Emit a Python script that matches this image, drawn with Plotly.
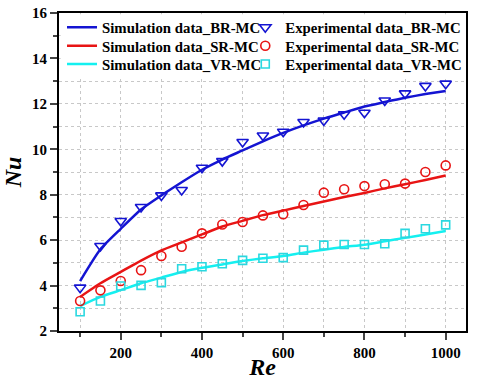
import plotly.graph_objects as go

re_vals = [100, 150, 200, 250, 300, 350, 400, 450, 500, 550, 600, 650, 700, 750, 800, 850, 900, 950, 1000]

sim_br = [4.2, 5.6, 6.5, 7.35, 7.97, 8.55, 9.1, 9.55, 9.95, 10.35, 10.72, 11.05, 11.35, 11.62, 11.88, 12.08, 12.27, 12.43, 12.57]
exp_br = [3.91, 5.74, 6.84, 7.46, 7.97, 8.21, 9.19, 9.48, 10.32, 10.61, 10.77, 11.2, 11.27, 11.54, 11.61, 12.15, 12.46, 12.79, 12.89]

sim_sr = [3.5, 4.1, 4.6, 5.1, 5.55, 5.9, 6.25, 6.6, 6.85, 7.1, 7.3, 7.5, 7.7, 7.9, 8.08, 8.28, 8.46, 8.65, 8.85]
exp_sr = [3.32, 3.79, 4.2, 4.68, 5.3, 5.71, 6.3, 6.69, 6.8, 7.09, 7.14, 7.55, 8.09, 8.24, 8.38, 8.46, 8.49, 9.0, 9.29]

sim_vr = [3.1, 3.5, 3.8, 4.1, 4.35, 4.6, 4.78, 4.93, 5.08, 5.2, 5.3, 5.45, 5.58, 5.7, 5.8, 5.95, 6.1, 6.25, 6.4]
exp_vr = [2.85, 3.32, 3.98, 4.01, 4.13, 4.74, 4.83, 4.96, 5.11, 5.2, 5.23, 5.56, 5.78, 5.81, 5.81, 5.84, 6.3, 6.5, 6.67]

names_sim = ["Simulation data_BR-MC", "Simulation data_SR-MC", "Simulation data_VR-MC"]
names_exp = ["Experimental data_BR-MC", "Experimental data_SR-MC", "Experimental data_VR-MC"]

colors_line = ["#1414d2", "#e81414", "#14f0f0"]
colors_mark = ["#1414d2", "#e81414", "#2ad8e0"]
symbols = ["triangle-down-open", "circle-open", "square-open"]
sizes = [10, 9, 8]

font_family = "Liberation Serif, Times New Roman, serif"
leg_font = dict(size=14.8, family=font_family, weight="bold", color="black")

row_y = [0.951, 0.893, 0.836]
col_x = [0.0074, 0.4577]

fig = go.Figure()
legends = {}
for i, s in enumerate([sim_br, sim_sr, sim_vr]):
    key = "legend" if i == 0 else f"legend{i + 1}"
    fig.add_trace(go.Scatter(x=re_vals, y=s, mode="lines", name=names_sim[i], legend=key,
                             line=dict(color=colors_line[i], width=2.5, shape="spline", smoothing=0.6)))
    legends[key] = dict(orientation="v", x=col_x[0], y=row_y[i], xanchor="left", yanchor="middle",
                        bgcolor="rgba(0,0,0,0)", borderwidth=0, font=leg_font, itemwidth=30)
for i, e in enumerate([exp_br, exp_sr, exp_vr]):
    key = f"legend{i + 4}"
    fig.add_trace(go.Scatter(x=re_vals, y=e, mode="markers", name=names_exp[i], legend=key,
                             marker=dict(symbol=symbols[i], size=sizes[i], color=colors_mark[i],
                                         line=dict(width=1.6, color=colors_mark[i]))))
    legends[key] = dict(orientation="v", x=col_x[1], y=row_y[i], xanchor="left", yanchor="middle",
                        bgcolor="rgba(0,0,0,0)", borderwidth=0, font=leg_font, itemwidth=30)

# white area behind the legend block that hides the grid there (no data reaches it)
fig.add_shape(type="rect", xref="x domain", yref="y domain", x0=0.004, x1=0.996, y0=0.80, y1=0.996,
              fillcolor="white", line=dict(width=0), layer="above")

fig.update_layout(
    width=490, height=380,
    margin=dict(l=59, r=24, t=12, b=49),
    plot_bgcolor="white", paper_bgcolor="white",
    font=dict(family=font_family, color="black"),
    showlegend=True,
    **legends,
    xaxis=dict(range=[48, 1050], tick0=0, dtick=200, ticks="outside", ticklen=7, tickwidth=2,
               showline=True, linewidth=2, linecolor="black", mirror=True,
               showgrid=True, gridcolor="#c8c8c8", griddash="dot", gridwidth=1,
               zeroline=False, automargin=False, ticklabeloverflow="allow",
               tickfont=dict(size=15, family=font_family, weight="bold"),
               minor=dict(dtick=100, tick0=0, ticks="outside", ticklen=4, tickwidth=2,
                          showgrid=True, gridcolor="#c8c8c8", griddash="dot", gridwidth=1),
               title=dict(text="<i>Re</i>", font=dict(size=24, family=font_family, weight="bold"), standoff=2)),
    yaxis=dict(range=[2, 16], tick0=0, dtick=2, ticks="outside", ticklen=7, tickwidth=2,
               showline=True, linewidth=2, linecolor="black", mirror=True,
               showgrid=True, gridcolor="#c8c8c8", griddash="dot", gridwidth=1,
               zeroline=False, automargin=False, ticklabeloverflow="allow",
               tickfont=dict(size=15, family=font_family, weight="bold"),
               minor=dict(dtick=1, tick0=0, ticks="outside", ticklen=4, tickwidth=2,
                          showgrid=True, gridcolor="#c8c8c8", griddash="dot", gridwidth=1),
               title=dict(text="<i>Nu</i>", font=dict(size=24, family=font_family, weight="bold"), standoff=4)),
)

fig.write_html("out.html", config={"displayModeBar": False},
               post_script="document.body.style.margin='0';")
